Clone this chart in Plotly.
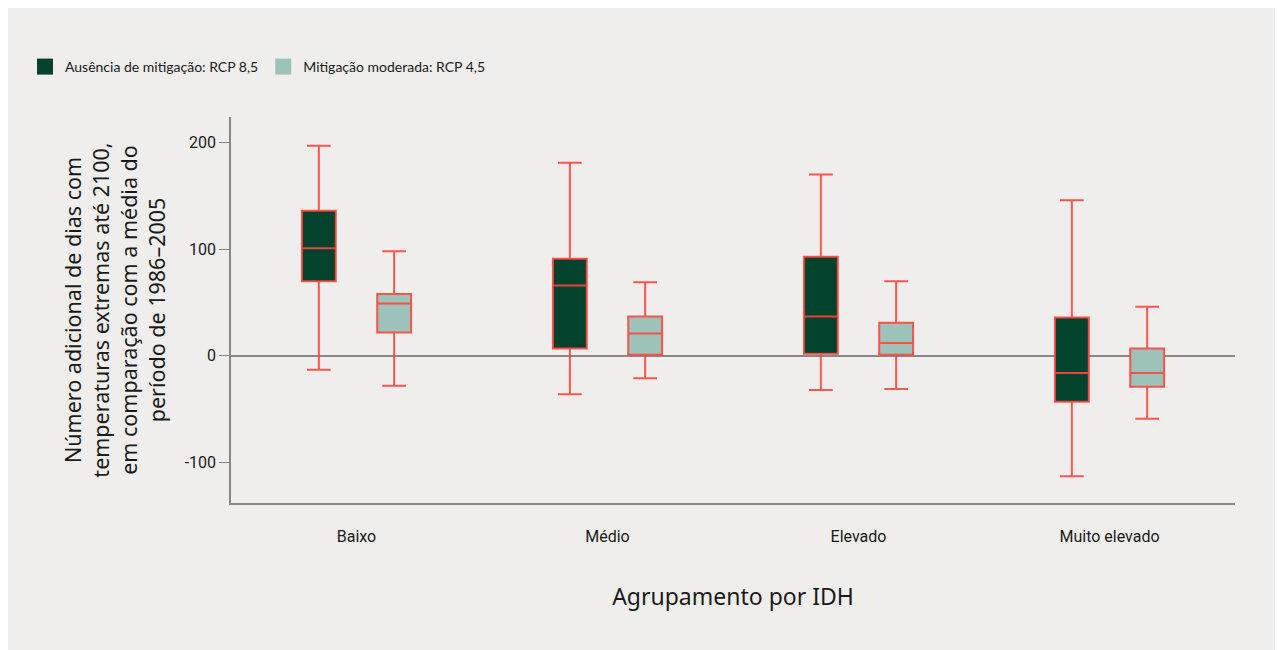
import plotly.graph_objects as go

categories = ["Baixo", "Médio", "Elevado", "Muito elevado"]
series_names = ["Ausência de mitigação: RCP 8,5", "Mitigação moderada: RCP 4,5"]

# RCP 8.5
rcp85_upper = [197, 181, 170, 146]
rcp85_q3 = [136, 91, 93, 36]
rcp85_median = [101, 66, 37, -16]
rcp85_q1 = [70, 7, 2, -43]
rcp85_lower = [-13, -36, -32, -113]

# RCP 4.5
rcp45_upper = [98, 69, 70, 46]
rcp45_q3 = [58, 37, 31, 7]
rcp45_median = [49, 21, 12, -16]
rcp45_q1 = [22, 1, 1, -29]
rcp45_lower = [-28, -21, -31, -59]

y_tickvals = [-100, 0, 100, 200]
y_ticktext = ["-100", "0", "100", "200"]

colors = ["#03422C", "#9CC2BA"]
line_col = "rgba(255,70,60,0.9)"

fig = go.Figure()
data = [
    (rcp85_lower, rcp85_q1, rcp85_median, rcp85_q3, rcp85_upper),
    (rcp45_lower, rcp45_q1, rcp45_median, rcp45_q3, rcp45_upper),
]
for i, (lo, q1, med, q3, up) in enumerate(data):
    fig.add_trace(go.Box(
        x=categories, lowerfence=lo, q1=q1, median=med, q3=q3, upperfence=up,
        name=series_names[i], fillcolor=colors[i],
        line=dict(color=line_col, width=2), whiskerwidth=0.7,
        showlegend=False, hoverinfo="skip",
    ))
for i in range(2):
    fig.add_trace(go.Scatter(
        x=[None], y=[None], mode="markers", name=series_names[i],
        marker=dict(symbol="square", size=18, color=colors[i], line=dict(width=0)),
    ))

fig.update_layout(
    width=1283, height=650,
    margin=dict(l=223, r=56, t=109, b=155),
    paper_bgcolor="#EFEEEC", plot_bgcolor="rgba(0,0,0,0)",
    boxmode="group", boxgroupgap=0.55, boxgap=0.40,
    font=dict(family="Roboto", color="#1a1a1a"),
    legend=dict(orientation="h", x=(17 - 223) / 1004, xanchor="left",
                y=1 + (109 - 59) / 386, yanchor="middle",
                font=dict(family="Lato", size=14, color="#1a1a1a"),
                bgcolor="rgba(0,0,0,0)", itemsizing="trace"),
    xaxis=dict(showline=True, linecolor="#888888", linewidth=1.5,
               ticks="", showgrid=False, zeroline=False, ticklabelstandoff=18,
               tickfont=dict(family="Roboto", size=16, color="#1a1a1a"),
               title=dict(text="Agrupamento por IDH", standoff=44,
                          font=dict(family="Noto Sans", size=23, color="#1a1a1a"))),
    yaxis=dict(range=[-138, 224], showline=True, linecolor="#888888", linewidth=1.5,
               ticks="outside", ticklen=10, tickcolor="#888888", tickwidth=1.2,
               tickvals=y_tickvals, ticktext=y_ticktext, showgrid=False,
               zeroline=True, zerolinecolor="#888888", zerolinewidth=1.5,
               tickfont=dict(family="Roboto", size=16, color="#1a1a1a"),
               title=dict(text="Número adicional de dias com<br>temperaturas extremas até 2100,<br>em comparação com a média do<br>período de 1986–2005",
                          standoff=13,
                          font=dict(family="Noto Sans", size=21.5, color="#1a1a1a"))),
)

fig.write_html("out.html")
